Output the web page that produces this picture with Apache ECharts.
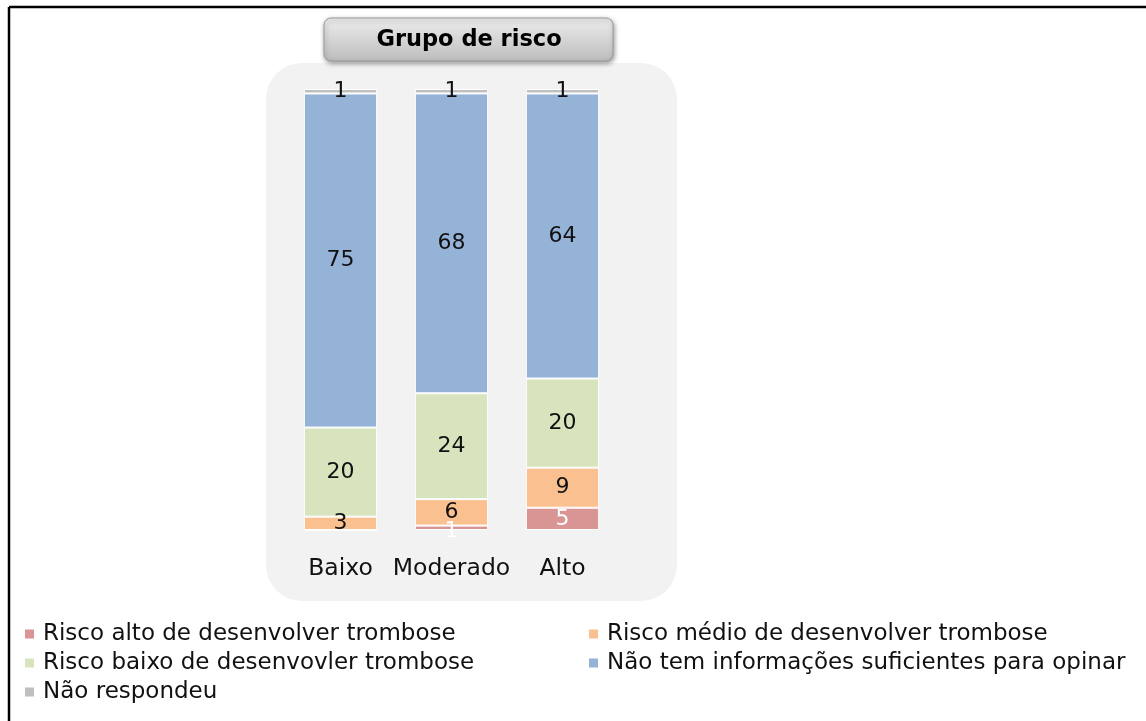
<!DOCTYPE html>
<html><head><meta charset="utf-8">
<script src="https://cdn.jsdelivr.net/npm/echarts@6/dist/echarts.min.js"></script>
<style>html,body{margin:0;padding:0;background:#fff}#c{width:1146px;height:721px}</style>
</head><body><div id="c"></div>
<script>
const categories = ['Baixo', 'Moderado', 'Alto'];
const seriesNames = ['Risco alto de desenvolver trombose', 'Risco médio de desenvolver trombose', 'Risco baixo de desenvovler trombose', 'Não tem informações suficientes para opinar', 'Não respondeu'];
const riscoAlto = [0, 1, 5];
const riscoMedio = [3, 6, 9];
const riscoBaixo = [20, 24, 20];
const naoTemInfo = [75, 68, 64];
const naoRespondeu = [1, 1, 1];
const titleText = 'Grupo de risco';

const colors = ['#d99594', '#fac090', '#d7e4bd', '#95b3d7', '#bfbfbf'];
const font = 'DejaVu Sans';
const values = [riscoAlto, riscoMedio, riscoBaixo, naoTemInfo, naoRespondeu];
// 100% stacked: normalize each category by its total
const totals = categories.map((_, j) => values.reduce((s, v) => s + v[j], 0));

const chart = echarts.init(document.getElementById('c'));
const series = values.map((v, i) => ({
  name: seriesNames[i], type: 'bar', stack: 's', barWidth: '66%',
  data: v.map((x, j) => {
    const d = { value: x / totals[j] * 100, raw: x };
    if (i === 0 && j === 1) d.label = { offset: [0, 3] };
    return d;
  }),
  itemStyle: { color: colors[i], borderColor: '#ffffff', borderWidth: 1 },
  label: {
    show: true, position: 'inside', fontFamily: font, fontSize: 22,
    color: i === 0 ? '#ffffff' : '#111111',
    formatter: p => p.data.raw > 0 ? String(p.data.raw) : ''
  },
  emphasis: { disabled: true }
}));

const legendCommon = {
  orient: 'vertical', itemWidth: 11, itemHeight: 11, itemGap: 5,
  icon: 'rect', selectedMode: false, padding: 0,
  textStyle: { fontFamily: font, fontSize: 23, lineHeight: 24, color: '#111111', padding: [0, 0, 0, 3] }
};

chart.setOption({
  animation: false,
  backgroundColor: '#ffffff',
  graphic: [
    { type: 'rect', shape: { x: 266, y: 63, width: 411, height: 538, r: 36 }, style: { fill: '#f2f2f2' }, z: -10 },
    { type: 'line', shape: { x1: 9, y1: 7, x2: 1146, y2: 7 }, style: { stroke: '#000', lineWidth: 2.5 } },
    { type: 'line', shape: { x1: 9, y1: 7, x2: 9, y2: 721 }, style: { stroke: '#000', lineWidth: 2.5 } },
    { type: 'rect', shape: { x: 324, y: 18, width: 289, height: 43, r: 7 },
      style: { fill: new echarts.graphic.LinearGradient(0, 0, 0, 1, [{ offset: 0, color: '#ededed' }, { offset: 1, color: '#bdbdbd' }]),
        stroke: '#9a9a9a', lineWidth: 1, shadowBlur: 5, shadowOffsetX: 1, shadowOffsetY: 2, shadowColor: 'rgba(0,0,0,0.4)' }, z: 5 },
    { type: 'text', x: 469, y: 40, style: { text: titleText, font: 'bold 22.5px "DejaVu Sans"', fill: '#000', align: 'center', verticalAlign: 'middle' }, z: 6 }
  ],
  legend: [
    Object.assign({ left: 23, top: 622, data: [seriesNames[0], seriesNames[2], seriesNames[4]] }, legendCommon),
    Object.assign({ left: 587, top: 622, data: [seriesNames[1], seriesNames[3]] }, legendCommon)
  ],
  grid: { left: 285, right: 1146 - 618, top: 89, bottom: 721 - 530, containLabel: false },
  xAxis: {
    type: 'category', data: categories,
    axisLine: { show: false }, axisTick: { show: false },
    axisLabel: { fontFamily: font, fontSize: 23.5, color: '#111111', margin: 27, interval: 0 }
  },
  yAxis: { type: 'value', min: 0, max: 100, show: false, splitLine: { show: false } },
  series: series
});
</script></body></html>
